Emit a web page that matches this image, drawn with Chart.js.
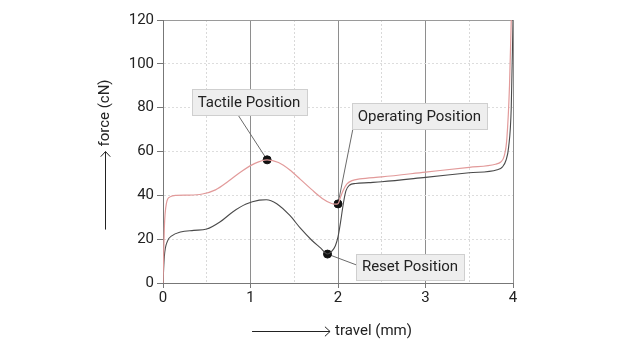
<!DOCTYPE html>
<html lang="en">
<head>
    <meta charset="UTF-8">
    <title>Force / travel characteristic</title>
    <script src="https://cdn.jsdelivr.net/npm/chart.js"></script>
    <style>
        html, body {
            margin: 0;
            padding: 0;
            background: #ffffff;
        }
        #wrap {
            width: 630px;
            height: 354px;
        }
    </style>
</head>
<body>
    <div id="wrap">
        <canvas id="chart" width="630" height="354"></canvas>
    </div>

    <script>
        // press curve (red) - travel in mm, force in cN
        const pressTravel = [0, 0.015, 0.04, 0.08, 0.15, 0.3, 0.45, 0.6, 0.75, 0.9, 1.05, 1.19, 1.32, 1.45, 1.57, 1.7, 1.82, 1.92, 1.97, 2.0, 2.03, 2.06, 2.1, 2.16, 2.25, 2.5, 3.0, 3.5, 3.8, 3.86, 3.9, 3.93, 3.96, 3.98];
        const pressForce = [0, 25, 36.5, 39.3, 40, 40.1, 40.6, 42.5, 46.5, 51, 54.6, 56.2, 55.0, 51.6, 47.3, 42.6, 38.6, 36.4, 36.0, 36.2, 39.3, 42.3, 45.1, 46.7, 47.5, 48.4, 50.6, 52.8, 54.2, 55.2, 58, 66, 90, 120];

        // release curve (dark)
        const releaseTravel = [0, 0.015, 0.05, 0.1, 0.2, 0.35, 0.5, 0.65, 0.8, 0.95, 1.1, 1.18, 1.3, 1.45, 1.57, 1.7, 1.8, 1.88, 1.93, 1.97, 2.0, 2.03, 2.06, 2.09, 2.13, 2.2, 2.35, 2.5, 3.0, 3.5, 3.82, 3.88, 3.92, 3.95, 3.98, 4.0];
        const releaseForce = [0, 12, 19, 21.5, 23.3, 24, 24.6, 27.8, 32.5, 36, 37.8, 38.0, 36.2, 30.8, 25, 19.5, 16, 13.2, 14.5, 17, 21, 28, 36, 42, 44.6, 45.4, 45.8, 46.2, 48.2, 50.3, 51.7, 53, 56, 62, 80, 120];

        // highlighted points and their call-outs
        const markerTravel = [1.19, 2.0, 1.88];
        const markerForce = [56.2, 36.1, 13.2];
        const labelTexts = ['Tactile Position', 'Operating Position', 'Reset Position'];
        const labelTravel = [0.983, 2.931, 2.823];
        const labelForce = [82.6, 76.3, 7.5];
        const leaderTravel = [0.761, 2.2, 2.366];
        const leaderForce = [82.6, 76.3, 5.9];

        // axes
        const travelGrid = [0, 0.5, 1, 1.5, 2, 2.5, 3, 3.5, 4];
        const forceTicks = [0, 20, 40, 60, 80, 100, 120];
        const xTitle = 'travel (mm)';
        const yTitle = 'force (cN)';

        const FONT = 'Roboto, "DejaVu Sans", sans-serif';
        const TEXT = '#222222';
        const isMajor = v => Number.isInteger(v);

        function toPoints(xs, ys) {
            return xs.map((x, i) => ({ x: x, y: ys[i] }));
        }

        function drawArrow(ctx, x1, y1, x2, y2) {
            const ang = Math.atan2(y2 - y1, x2 - x1);
            const h = 7;
            ctx.beginPath();
            ctx.moveTo(x1, y1);
            ctx.lineTo(x2, y2);
            ctx.moveTo(x2 - h * Math.cos(ang - 0.75), y2 - h * Math.sin(ang - 0.75));
            ctx.lineTo(x2, y2);
            ctx.lineTo(x2 - h * Math.cos(ang + 0.75), y2 - h * Math.sin(ang + 0.75));
            ctx.stroke();
        }

        const calloutPlugin = {
            id: 'callouts',
            beforeDatasetsDraw(chart) {
                const ctx = chart.ctx;
                const xs = chart.scales.x, ys = chart.scales.y;
                ctx.save();
                ctx.strokeStyle = '#6a6a6a';
                ctx.lineWidth = 1;
                markerTravel.forEach((t, i) => {
                    ctx.beginPath();
                    ctx.moveTo(xs.getPixelForValue(t), ys.getPixelForValue(markerForce[i]));
                    ctx.lineTo(xs.getPixelForValue(leaderTravel[i]), ys.getPixelForValue(leaderForce[i]));
                    ctx.stroke();
                });
                ctx.restore();
            },
            afterDatasetsDraw(chart) {
                const ctx = chart.ctx;
                const xs = chart.scales.x, ys = chart.scales.y;
                ctx.save();
                ctx.font = '15px ' + FONT;
                ctx.textBaseline = 'middle';
                ctx.textAlign = 'center';
                labelTexts.forEach((txt, i) => {
                    const cx = xs.getPixelForValue(labelTravel[i]);
                    const cy = ys.getPixelForValue(labelForce[i]);
                    const w = Math.round(ctx.measureText(txt).width + 12);
                    const h = 26;
                    const bx = Math.round(cx - w / 2) + 0.5;
                    const by = Math.round(cy - h / 2) + 0.5;
                    ctx.fillStyle = '#eeeeee';
                    ctx.fillRect(bx, by, w, h);
                    ctx.strokeStyle = '#cfcfcf';
                    ctx.strokeRect(bx, by, w, h);
                    ctx.fillStyle = TEXT;
                    ctx.fillText(txt, cx, cy + 1);
                });
                ctx.restore();
            },
            afterDraw(chart) {
                const ctx = chart.ctx;
                const area = chart.chartArea;
                ctx.save();
                ctx.font = '15px ' + FONT;
                ctx.fillStyle = TEXT;
                ctx.strokeStyle = TEXT;
                ctx.lineWidth = 1;
                ctx.textBaseline = 'middle';
                ctx.textAlign = 'left';

                // x title: arrow then text
                const arrowLen = 78, gap = 5;
                const xw = ctx.measureText(xTitle).width;
                const xStart = (area.left + area.right) / 2 - 6 - (arrowLen + gap + xw) / 2;
                const xy = 331.5;
                drawArrow(ctx, xStart, xy, xStart + arrowLen, xy);
                ctx.fillText(xTitle, xStart + arrowLen + gap, xy);

                // y title, rotated
                const yw = ctx.measureText(yTitle).width;
                const yx = 105.5;
                const yStart = (area.top + area.bottom) / 2 + 3 + (arrowLen + gap + yw) / 2;
                drawArrow(ctx, yx, yStart, yx, yStart - arrowLen);
                ctx.translate(yx, yStart - arrowLen - gap);
                ctx.rotate(-Math.PI / 2);
                ctx.fillText(yTitle, 0, 0);
                ctx.restore();
            }
        };

        const ctx = document.getElementById('chart').getContext('2d');
        const myChart = new Chart(ctx, {
            type: 'scatter',
            data: {
                datasets: [
                    {
                        label: 'press',
                        data: toPoints(pressTravel, pressForce),
                        showLine: true,
                        borderColor: '#e29a9a',
                        borderWidth: 1.2,
                        pointRadius: 0,
                        cubicInterpolationMode: 'monotone'
                    },
                    {
                        label: 'release',
                        data: toPoints(releaseTravel, releaseForce),
                        showLine: true,
                        borderColor: '#4a4a4a',
                        borderWidth: 1.1,
                        pointRadius: 0,
                        cubicInterpolationMode: 'monotone'
                    },
                    {
                        label: 'markers',
                        data: toPoints(markerTravel, markerForce),
                        showLine: false,
                        pointRadius: 4,
                        pointBackgroundColor: '#111111',
                        pointBorderColor: '#111111'
                    }
                ]
            },
            options: {
                responsive: false,
                animation: false,
                layout: {
                    padding: { top: 20, right: 117, left: 0, bottom: 0 }
                },
                plugins: {
                    legend: { display: false },
                    tooltip: { enabled: false }
                },
                scales: {
                    x: {
                        type: 'linear',
                        min: 0,
                        max: 4,
                        afterBuildTicks: scale => {
                            scale.ticks = travelGrid.map(v => ({ value: v }));
                        },
                        afterFit: scale => { scale.height = 71; },
                        ticks: {
                            autoSkip: false,
                            maxRotation: 0,
                            padding: 1,
                            color: TEXT,
                            font: { family: FONT, size: 15 },
                            callback: v => isMajor(v) ? v : ''
                        },
                        grid: {
                            color: c => isMajor(c.tick.value) ? '#8e8e8e' : '#d9d9d9',
                            tickColor: c => isMajor(c.tick.value) ? '#777777' : 'rgba(0,0,0,0)',
                            tickLength: 5,
                            lineWidth: 1
                        },
                        border: {
                            color: '#777777',
                            width: 1,
                            dash: c => (c.tick && !isMajor(c.tick.value)) ? [2, 2] : []
                        }
                    },
                    y: {
                        type: 'linear',
                        min: 0,
                        max: 120,
                        afterBuildTicks: scale => {
                            scale.ticks = forceTicks.map(v => ({ value: v }));
                        },
                        afterFit: scale => { scale.width = 163; },
                        ticks: {
                            padding: 3,
                            color: TEXT,
                            font: { family: FONT, size: 15 }
                        },
                        grid: {
                            color: c => c.tick.value === 120 ? '#9a9a9a' : '#dddddd',
                            tickColor: '#777777',
                            tickLength: 6,
                            lineWidth: 1
                        },
                        border: {
                            color: '#777777',
                            width: 1,
                            dash: c => (c.tick && c.tick.value !== 120 && c.tick.value !== 0) ? [2, 2] : []
                        }
                    }
                }
            },
            plugins: [calloutPlugin]
        });
    </script>
</body>
</html>
